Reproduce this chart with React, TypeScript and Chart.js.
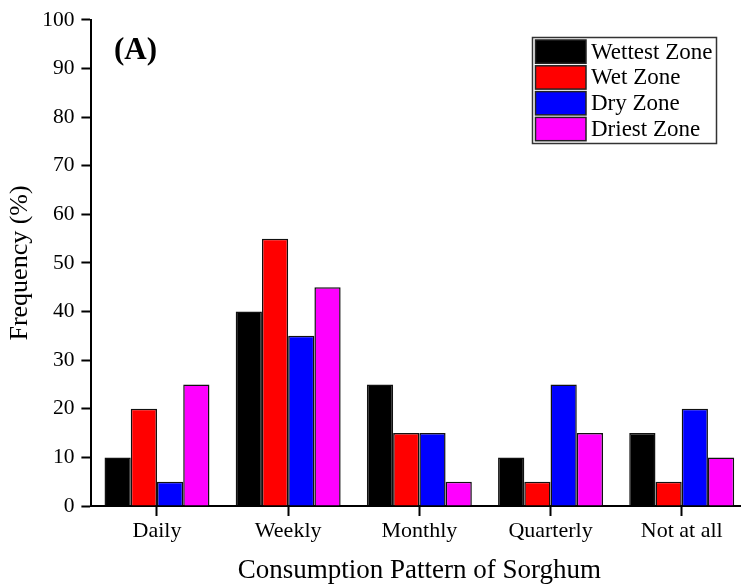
import React, { useEffect, useRef } from "react";
import { Chart, registerables } from "chart.js";

Chart.register(...registerables);

const categories = ["Daily", "Weekly", "Monthly", "Quarterly", "Not at all"];
const wettestZone = [10, 40, 25, 10, 15];
const wetZone = [20, 55, 15, 5, 5];
const dryZone = [5, 35, 15, 25, 20];
const driestZone = [25, 45, 5, 15, 10];
const seriesNames = ["Wettest Zone", "Wet Zone", "Dry Zone", "Driest Zone"];
const seriesColors = ["#000000", "#ff0000", "#0000ff", "#ff00ff"];

const SERIF = "'Liberation Serif', 'Times New Roman', serif";

// Boxed legend in the upper right plus the panel letter
const decorations = {
  id: "decorations",
  afterDraw(chart: any) {
    const ctx = chart.ctx;
    ctx.save();

    // panel letter
    ctx.fillStyle = "#000";
    ctx.font = `bold 31px ${SERIF}`;
    ctx.textAlign = "left";
    ctx.textBaseline = "alphabetic";
    ctx.fillText("(A)", 114, 59);

    // legend frame
    const bx = 532.5;
    const by = 37.5;
    const bw = 184;
    const bh = 106;
    ctx.fillStyle = "#fff";
    ctx.fillRect(bx, by, bw, bh);
    ctx.strokeStyle = "#333";
    ctx.lineWidth = 1.5;
    ctx.strokeRect(bx, by, bw, bh);

    const datasets = chart.data.datasets;
    ctx.font = `23px ${SERIF}`;
    ctx.textBaseline = "middle";
    datasets.forEach((ds: any, i: number) => {
      const sy = 40 + i * 25.8;
      ctx.fillStyle = ds.backgroundColor;
      ctx.fillRect(535.5, sy, 50.5, 23.3);
      ctx.strokeStyle = "#222";
      ctx.lineWidth = 1.5;
      ctx.strokeRect(535.5, sy, 50.5, 23.3);
      ctx.fillStyle = "#000";
      ctx.fillText(ds.label, 591, sy + 12.5);
    });

    ctx.restore();
  },
};

export default function App() {
  const canvasRef = useRef<HTMLCanvasElement | null>(null);

  useEffect(() => {
    if (!canvasRef.current) return;
    const values = [wettestZone, wetZone, dryZone, driestZone];
    const chart = new Chart(canvasRef.current, {
      type: "bar",
      data: {
        labels: categories,
        datasets: values.map((v, i) => ({
          label: seriesNames[i],
          data: v,
          backgroundColor: seriesColors[i],
          borderColor: "#111",
          borderWidth: 1.5,
          categoryPercentage: 0.8,
          barPercentage: 1.0,
        })),
      },
      options: {
        animation: false,
        responsive: false,
        maintainAspectRatio: false,
        layout: { padding: { top: 19, right: 2.7, left: 0, bottom: 0 } },
        plugins: {
          legend: { display: false },
          tooltip: { enabled: false },
        },
        scales: {
          x: {
            type: "category",
            offset: true,
            grid: {
              display: true,
              drawOnChartArea: false,
              drawTicks: true,
              tickLength: 10,
              tickColor: "#000",
              tickWidth: 2,
              offset: false,
            },
            border: { display: true, color: "#000", width: 2 },
            ticks: {
              color: "#000",
              font: { family: SERIF, size: 22 },
              padding: 2,
              maxRotation: 0,
            },
            title: {
              display: true,
              text: "Consumption Pattern of Sorghum",
              color: "#000",
              font: { family: SERIF, size: 27 },
              padding: { top: 0, bottom: 1 },
            },
            afterFit(scale: any) {
              scale.height = 82;
            },
          },
          y: {
            min: 0,
            max: 100,
            ticks: {
              stepSize: 10,
              color: "#000",
              font: { family: SERIF, size: 21.5 },
              padding: 7,
            },
            grid: {
              display: true,
              drawOnChartArea: false,
              drawTicks: true,
              tickLength: 10,
              tickColor: "#000",
              tickWidth: 2,
            },
            border: { display: true, color: "#000", width: 2 },
            title: {
              display: true,
              text: "Frequency (%)",
              color: "#000",
              font: { family: SERIF, size: 26 },
              padding: { top: 5, bottom: 0 },
            },
            afterFit(scale: any) {
              scale.width = 91.4;
            },
          },
        },
      },
      plugins: [decorations],
    });
    return () => chart.destroy();
  }, []);

  return (
    <div
      style={{
        position: "absolute",
        left: 0,
        top: 0,
        width: 741,
        height: 588,
        overflow: "hidden",
        background: "#fff",
      }}
    >
      <canvas ref={canvasRef} width={750} height={588} style={{ display: "block" }} />
    </div>
  );
}
